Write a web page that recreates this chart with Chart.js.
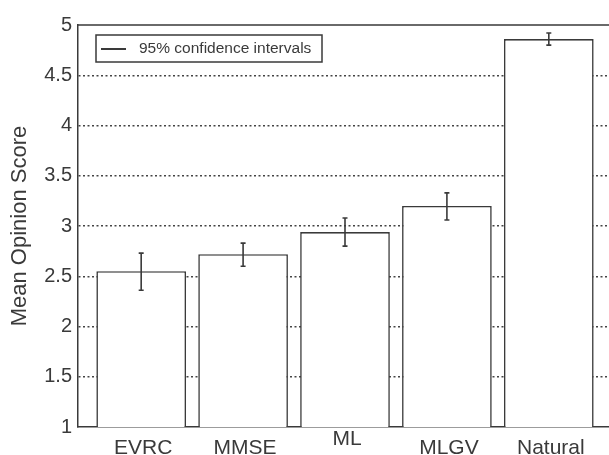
<!DOCTYPE html>
<html>
<head>
<meta charset="utf-8">
<script src="https://cdn.jsdelivr.net/npm/chart.js@4.4.1/dist/chart.umd.min.js"></script>
<style>
  html, body { margin: 0; padding: 0; background: #fff; overflow: hidden; }
</style>
</head>
<body>
<canvas id="mosChart" width="616" height="455"></canvas>
<script>
// Data
const categories = ['EVRC', 'MMSE', 'ML', 'MLGV', 'Natural'];
const meanScores = [2.55, 2.72, 2.94, 3.20, 4.86];
const ciLow = [2.36, 2.60, 2.80, 3.06, 4.80];
const ciHigh = [2.73, 2.83, 3.08, 3.33, 4.92];
const yTicks = [1, 1.5, 2, 2.5, 3, 3.5, 4, 4.5, 5];
const legendText = '95% confidence intervals';

const ink = '#3a3a3a';
const fontName = '"Liberation Sans", Arial, Helvetica, sans-serif';

// error bars drawn from the scales
const errorBars = {
    id: 'errorBars',
    afterDatasetsDraw(chart) {
        const { ctx, scales: { x, y } } = chart;
        ctx.save();
        ctx.strokeStyle = ink;
        ctx.lineWidth = 1.6;
        categories.forEach((c, i) => {
            const px = x.getPixelForValue(i + 1);
            const top = y.getPixelForValue(ciHigh[i]);
            const bot = y.getPixelForValue(ciLow[i]);
            ctx.beginPath();
            ctx.moveTo(px, top);
            ctx.lineTo(px, bot);
            ctx.moveTo(px - 2.5, top);
            ctx.lineTo(px + 2.5, top);
            ctx.moveTo(px - 2.5, bot);
            ctx.lineTo(px + 2.5, bot);
            ctx.stroke();
        });
        ctx.restore();
    }
};

// top/right frame, category labels and the boxed legend
const decorations = {
    id: 'decorations',
    afterDraw(chart) {
        const { ctx, chartArea: a, scales: { x } } = chart;
        ctx.save();
        ctx.strokeStyle = ink;
        ctx.lineWidth = 1.5;
        ctx.beginPath();
        ctx.moveTo(a.left, a.top);
        ctx.lineTo(a.right, a.top);
        ctx.lineTo(a.right, a.bottom);
        ctx.stroke();

        // category names (ML sits a little higher in the original)
        ctx.fillStyle = ink;
        ctx.font = '21px ' + fontName;
        ctx.textAlign = 'center';
        ctx.textBaseline = 'alphabetic';
        categories.forEach((c, i) => {
            const lift = c === 'ML' ? 9 : 0;
            ctx.fillText(c, x.getPixelForValue(i + 1) + 2, a.bottom + 27 - lift);
        });

        // legend box
        const lx = a.left + 18, ly = a.top + 10;
        ctx.lineWidth = 1.5;
        ctx.strokeRect(lx, ly, 226, 27);
        ctx.lineWidth = 2;
        ctx.beginPath();
        ctx.moveTo(lx + 5, ly + 14);
        ctx.lineTo(lx + 30, ly + 14);
        ctx.stroke();
        ctx.font = '15.5px ' + fontName;
        ctx.textAlign = 'left';
        ctx.textBaseline = 'middle';
        ctx.fillText(legendText, lx + 43, ly + 14);
        ctx.restore();
    }
};

const mosChart = new Chart(document.getElementById('mosChart'), {
    type: 'bar',
    data: {
        datasets: [{
            label: 'Mean Opinion Score',
            data: meanScores.map((v, i) => ({ x: i + 1, y: v })),
            backgroundColor: '#ffffff',
            borderColor: ink,
            borderWidth: 1.6,
            categoryPercentage: 1,
            barPercentage: 0.88
        }]
    },
    options: {
        responsive: false,
        animation: false,
        layout: { padding: { top: 25, right: 4, left: 0, bottom: 0 } },
        plugins: {
            legend: { display: false },
            tooltip: { enabled: false }
        },
        scales: {
            x: {
                type: 'linear',
                min: 0.38,
                max: 5.62,
                offset: false,
                afterBuildTicks(scale) { scale.ticks = categories.map((c, i) => ({ value: i + 1 })); },
                grid: { display: false, offset: false },
                ticks: { display: false },
                border: { color: ink, width: 1.5 },
                afterFit(scale) { scale.height = 28; }
            },
            y: {
                min: 1,
                max: 5,
                afterBuildTicks(scale) { scale.ticks = yTicks.map(v => ({ value: v })); },
                ticks: {
                    color: ink,
                    padding: 6,
                    font: { family: fontName, size: 20 },
                    callback: v => String(v)
                },
                grid: {
                    drawTicks: false,
                    lineWidth: 1.4,
                    color: c => (c.tick && (c.tick.value === 1 || c.tick.value === 5)) ? 'rgba(0,0,0,0)' : '#444444'
                },
                border: { color: ink, width: 1.5, dash: [2, 2.5] },
                title: {
                    display: true,
                    text: 'Mean Opinion Score',
                    color: ink,
                    font: { family: fontName, size: 22 },
                    padding: { top: 7, bottom: 0 }
                },
                afterFit(scale) { scale.width = 78; }
            }
        }
    },
    plugins: [errorBars, decorations]
});
</script>
</body>
</html>
